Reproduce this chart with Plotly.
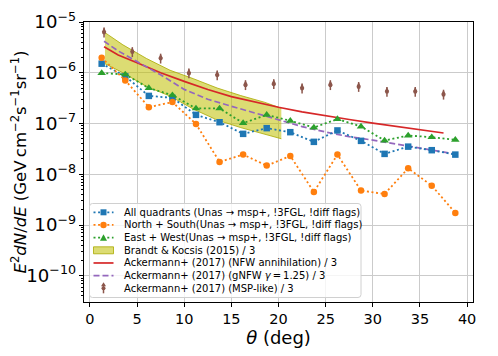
import plotly.graph_objects as go

# angular bins (deg)
theta = [1.25, 3.75, 6.25, 8.75, 11.25, 13.75, 16.25, 18.75,
         21.25, 23.75, 26.25, 28.75, 31.25, 33.75, 36.25, 38.75]

all_quad = [1.51e-6, 8.5e-7, 3.5e-7, 3.2e-7, 1.48e-7, 1.06e-7, 6.25e-8, 8.1e-8,
            6.75e-8, 4.35e-8, 7.3e-8, 4.55e-8, 2.52e-8, 3.5e-8, 2.98e-8, 2.44e-8]
north_south = [1.98e-6, 7.07e-7, 2.1e-7, 2.64e-7, 9.8e-8, 1.75e-8, 2.44e-8, 1.48e-8,
               2.3e-8, 4.48e-9, 2.44e-8, 4.76e-9, 4.09e-9, 1.31e-8, 5.97e-9, 1.73e-9]
east_west = [9.84e-7, 9.27e-7, 4.98e-7, 3.62e-7, 1.98e-7, 1.98e-7, 1.02e-7, 1.48e-7,
             1.13e-7, 8.34e-8, 1.22e-7, 8.73e-8, 4.61e-8, 5.8e-8, 5.37e-8, 4.77e-8]

# Brandt & Kocsis band
theta_bk = [1.6, 3.5, 6.0, 8.5, 11.0, 13.5, 16.0, 18.5, 20.3]
bk_upper = [6.17e-6, 3.55e-6, 1.91e-6, 1.12e-6, 7.6e-7, 5.0e-7, 3.55e-7, 2.63e-7, 2.0e-7]
bk_lower = [1.51e-6, 1.0e-6, 5.37e-7, 3.47e-7, 1.91e-7, 1.17e-7, 8.3e-8, 6.3e-8, 5.0e-8]

# Ackermann+ (2017) curves
theta_nfw = [1.5, 3, 5, 7.5, 10, 12.5, 15, 17.5, 20, 22.5, 25, 27.5, 30, 32.5, 35, 37.5]
nfw = [3.24e-6, 2.24e-6, 1.58e-6, 1.0e-6, 6.76e-7, 4.68e-7, 3.39e-7, 2.63e-7,
       2.09e-7, 1.7e-7, 1.41e-7, 1.2e-7, 1.02e-7, 8.7e-8, 7.6e-8, 6.5e-8]
theta_gnfw = [1.5, 3, 5, 7.5, 10, 12.5, 15, 17.5, 20, 22.5, 25, 27.5, 30, 32.5, 35, 38.75]
gnfw = [4.17e-6, 2.69e-6, 1.66e-6, 9.1e-7, 4.7e-7, 3.0e-7, 2.19e-7, 1.62e-7,
        1.2e-7, 8.7e-8, 6.8e-8, 5.5e-8, 4.7e-8, 3.9e-8, 3.3e-8, 2.5e-8]
theta_msp = [1.5, 4.5, 7.5, 10.5, 13.5, 16.5, 19.5, 22.5, 25.5, 28.5, 31.5, 34.5, 37.5]
msp = [6.2e-6, 2.55e-6, 1.9e-6, 9.7e-7, 8.9e-7, 5.7e-7, 5.95e-7, 4.9e-7,
       5.7e-7, 5.25e-7, 4.2e-7, 4.2e-7, 3.7e-7]

labels = [
    "All quadrants (Unas \u2192 msp+, !3FGL, !diff flags)",
    "North + South(Unas \u2192 msp+, !3FGL, !diff flags)",
    "East + West(Unas \u2192 msp+, !3FGL, !diff flags)",
    "Brandt & Kocsis (2015) / 3",
    "Ackermann+ (2017) (NFW annihilation) / 3",
    "Ackermann+ (2017) (gNFW <i>\u03b3</i>\u2009=\u20091.25) / 3",
    "Ackermann+ (2017) (MSP-like) / 3",
]

BLUE, ORANGE, GREEN = "#1f77b4", "#ff7f0e", "#2ca02c"
RED, PURPLE, BROWN = "#d62728", "#9467bd", "#8c564b"
BAND_FILL, BAND_EDGE = "rgba(191,191,0,0.55)", "rgba(170,170,0,0.8)"
DOT = "2px,2.6px"
FONT = "DejaVu Sans"

fig = go.Figure()

# band
fig.add_trace(go.Scatter(x=theta_bk, y=bk_lower, mode="lines",
                         line=dict(color=BAND_EDGE, width=1), showlegend=False))
fig.add_trace(go.Scatter(x=theta_bk, y=bk_upper, mode="lines", fill="tonexty",
                         fillcolor=BAND_FILL, line=dict(color=BAND_EDGE, width=1),
                         showlegend=False))

fig.add_trace(go.Scatter(x=theta_nfw, y=nfw, mode="lines",
                         line=dict(color=RED, width=1.7), showlegend=False))
fig.add_trace(go.Scatter(x=theta_gnfw, y=gnfw, mode="lines",
                         line=dict(color=PURPLE, width=1.7, dash="6px,3px"),
                         showlegend=False))

for ys, col, sym, sz in [(all_quad, BLUE, "square", 6.5),
                         (north_south, ORANGE, "circle", 6.5),
                         (east_west, GREEN, "triangle-up", 7.5)]:
    fig.add_trace(go.Scatter(x=theta, y=ys, mode="lines+markers",
                             line=dict(color=col, width=1.8, dash=DOT),
                             marker=dict(color=col, symbol=sym, size=sz),
                             showlegend=False))

# MSP-like: point with short bar and caret on top
up = 1.25
fig.add_trace(go.Scatter(
    x=theta_msp, y=msp, mode="markers",
    marker=dict(color=BROWN, symbol="circle", size=4),
    error_y=dict(type="data", symmetric=False,
                 array=[v * (up - 1) for v in msp],
                 arrayminus=[v * (1 - 1 / up) for v in msp],
                 color=BROWN, thickness=1.5, width=0),
    showlegend=False))
fig.add_trace(go.Scatter(
    x=theta_msp, y=[v * up for v in msp], mode="markers",
    marker=dict(color=BROWN, symbol="arrow-up", size=4.5, line=dict(width=0)),
    showlegend=False))

# ---- hand made legend (matplotlib style compact rows) ----
# the page body adds an 8px offset, so the figure is drawn 8px smaller
OFF = 8
W, H = 498 - OFF, 356 - OFF
L, T = 84 - OFF, 22 - OFF
R, B = 25, 54
pw, ph = W - L - R, H - T - B


def px(x):
    # window pixel -> paper fraction
    return (x - OFF - L) / pw


def py(y):
    return (H - B - (y - OFF)) / ph


# legend frame with rounded corners, drawn in pixels from its top-left corner
bx0, by0, bw, bh, rr = 89.5, 203.5, 271.5, 94.0, 3
frame = (f"M{rr},0 H{bw - rr} Q{bw},0 {bw},{-rr} V{-(bh - rr)} "
         f"Q{bw},{-bh} {bw - rr},{-bh} H{rr} Q0,{-bh} 0,{-(bh - rr)} "
         f"V{-rr} Q0,0 {rr},0 Z")
shapes = [dict(type="path", xref="paper", yref="paper", xsizemode="pixel",
               ysizemode="pixel", xanchor=px(bx0), yanchor=py(by0), path=frame,
               line=dict(color="#d0d0d0", width=1),
               fillcolor="rgba(255,255,255,0.8)", layer="above")]
annotations = []
row0, step = 212.3, 12.67
hx0, hx1, hxm = 93.5, 113.5, 103.5
for i, lab in enumerate(labels):
    ry = row0 + i * step
    annotations.append(dict(x=px(121.5), y=py(ry), xref="paper", yref="paper",
                            text=lab, showarrow=False, xanchor="left",
                            yanchor="middle", font=dict(size=10, color="black",
                                                        family=FONT)))
    ln = dict(type="line", xref="paper", yref="paper", layer="above",
              x0=px(hx0), x1=px(hx1), y0=py(ry), y1=py(ry))
    mk = dict(xref="paper", yref="paper", xsizemode="pixel", ysizemode="pixel",
              xanchor=px(hxm), yanchor=py(ry), layer="above")
    if i == 0:
        shapes.append({**ln, "line": dict(color=BLUE, width=1.8, dash=DOT)})
        shapes.append({**mk, "type": "rect", "x0": -3, "x1": 3, "y0": -3, "y1": 3,
                       "fillcolor": BLUE, "line": dict(width=0)})
    elif i == 1:
        shapes.append({**ln, "line": dict(color=ORANGE, width=1.8, dash=DOT)})
        shapes.append({**mk, "type": "circle", "x0": -3.2, "x1": 3.2, "y0": -3.2,
                       "y1": 3.2, "fillcolor": ORANGE, "line": dict(width=0)})
    elif i == 2:
        shapes.append({**ln, "line": dict(color=GREEN, width=1.8, dash=DOT)})
        shapes.append({**mk, "type": "path", "path": "M-3.5,-3 L3.5,-3 L0,3.5 Z",
                       "fillcolor": GREEN, "line": dict(width=0)})
    elif i == 3:
        shapes.append({**mk, "type": "rect", "x0": -10, "x1": 10, "y0": -3.5,
                       "y1": 3.5, "fillcolor": BAND_FILL,
                       "line": dict(color=BAND_EDGE, width=1)})
    elif i == 4:
        shapes.append({**ln, "line": dict(color=RED, width=1.7)})
    elif i == 5:
        shapes.append({**ln, "line": dict(color=PURPLE, width=1.7, dash="6px,3px")})
    else:
        shapes.append({**mk, "type": "line", "x0": 0, "x1": 0, "y0": -5, "y1": 4,
                       "line": dict(color=BROWN, width=1.5)})
        shapes.append({**mk, "type": "path", "path": "M-2.5,2 L2.5,2 L0,6 Z",
                       "fillcolor": BROWN, "line": dict(width=0)})
        shapes.append({**mk, "type": "circle", "x0": -2, "x1": 2, "y0": -2,
                       "y1": 2, "fillcolor": BROWN, "line": dict(width=0)})

axis_common = dict(showline=True, linecolor="black", linewidth=1, mirror=True,
                   ticks="outside", ticklen=4, tickcolor="black",
                   showgrid=True, gridcolor="#cbcbcb", gridwidth=1,
                   zeroline=False, automargin=False,
                   tickfont=dict(size=14.5, color="black", family=FONT))

fig.update_layout(
    width=W, height=H,
    margin=dict(l=L, r=R, t=T, b=B),
    plot_bgcolor="white", paper_bgcolor="white",
    font=dict(family=FONT, color="black"),
    showlegend=False,
    shapes=shapes, annotations=annotations,
    xaxis=dict(range=[-0.625, 40.625], tick0=0, dtick=5,
               title=dict(text="<i>\u03b8</i> (deg)", font=dict(size=18),
                          standoff=2),
               **axis_common),
    yaxis=dict(type="log", range=[-10.517, -5], tick0=0, dtick=1,
               exponentformat="power",
               minor=dict(ticks="outside", ticklen=2, tickcolor="black",
                          dtick="D1", showgrid=False),
               title=dict(text="<i>E</i><sup>2</sup><i>dN</i>/<i>dE</i> "
                               "(GeV\u2009cm<sup>\u22122</sup>s<sup>\u22121</sup>"
                               "sr<sup>\u22121</sup>)",
                          font=dict(size=16.5), standoff=1),
               **axis_common),
)

fig.write_html("out.html")
